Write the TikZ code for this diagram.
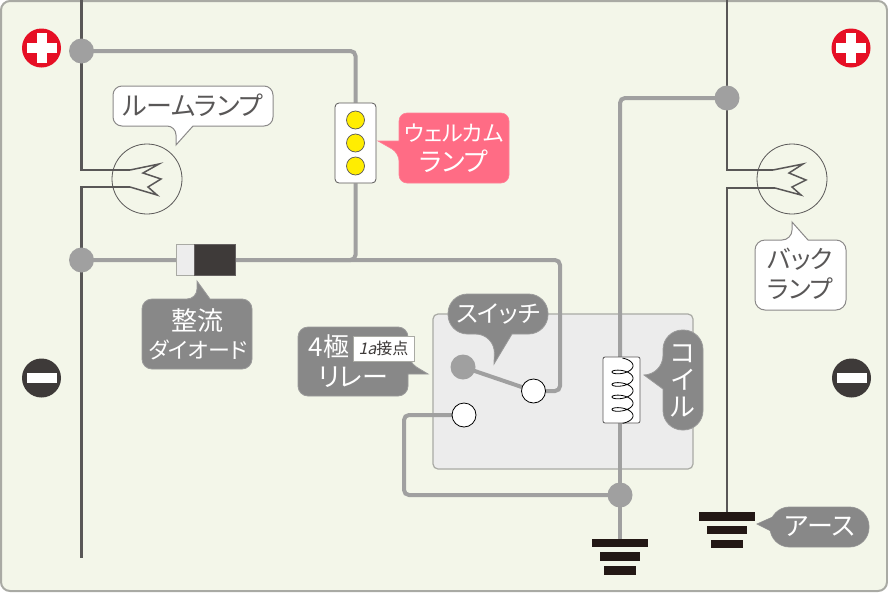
\documentclass[tikz,border=0pt]{standalone}
\usepackage{fontspec}
\setmainfont{Noto Sans CJK JP}[RawFeature=+palt]
\newfontfamily\slantfont{Noto Sans CJK JP}[FakeSlant=0.22]
\definecolor{bgc}{HTML}{F3F6E9}
\definecolor{framec}{HTML}{A9AAA4}
\definecolor{wirec}{HTML}{A0A0A0}
\definecolor{darkw}{HTML}{595757}
\definecolor{tagc}{HTML}{888888}
\definecolor{pinkc}{HTML}{FF6C85}
\definecolor{blackb}{HTML}{231815}
\definecolor{minusc}{HTML}{3E3A39}
\definecolor{plusc}{HTML}{E60F25}
\pgfdeclarelayer{under}
\pgfsetlayers{under,main}
\tikzset{
  x=1pt,y=-1pt,
  wire/.style={draw=wirec,line width=4pt,rounded corners=5pt},
  hotline/.style={draw=darkw,line width=2.5pt},
  lampring/.style={circle,draw=darkw,line width=.8pt,minimum size=70pt,inner sep=0pt},
  joint/.style={circle,fill=wirec,minimum size=25pt,inner sep=0pt},
  contact/.style={circle,fill=white,draw=black,line width=.8pt,minimum size=24pt,inner sep=0pt},
  led/.style={circle,fill=yellow!95!orange,draw=darkw,line width=.7pt,minimum size=18pt,inner sep=0pt},
  holder/.style={draw=darkw,fill=white,line width=.8pt,inner sep=0pt},
  whitetag/.style={fill=white,draw=darkw!70,line width=1pt},
  greytag/.style={fill=tagc,draw=tagc!85!white,line width=.8pt},
  pinktag/.style={fill=pinkc,draw=pinkc!85!white,line width=.6pt},
  darktext/.style={text=darkw,align=center,inner sep=0pt,font=\fontsize{26}{30}\selectfont},
  lighttext/.style={text=white,align=center,inner sep=0pt,font=\fontsize{24}{30}\selectfont},
  gbar/.style={fill=blackb}
}
\begin{document}
\begin{tikzpicture}
\useasboundingbox (0,0) rectangle (888,592);

% nodes
\node[joint] (jtop) at (81.5,51) {};
\node[joint] (jmid) at (81.5,260) {};
\node[joint] (jright) at (727,98) {};
\node[joint] (jgnd) at (620,495) {};
\node[joint] (jsw) at (463,367) {};
\node[contact] (csw) at (533.5,391) {};
\node[contact] (cno) at (464,415) {};
\node[holder,rounded corners=4pt,minimum width=41pt,minimum height=80pt] (lampbox) at (355.5,143) {};
\node[holder,rounded corners=2pt,minimum width=37pt,minimum height=66pt] (coilbox) at (621.5,390) {};
\coordinate (topL) at (81.5,0);
\coordinate (botL) at (81.5,558);
\coordinate (topR) at (727,0);
\coordinate (corner1) at (355.5,51);
\coordinate (gndL) at (620,540);
\coordinate (gndR) at (727,513);

\begin{pgfonlayer}{under}
\draw[fill=bgc,draw=framec,line width=2pt,rounded corners=9pt] (1,1) rectangle (887,591);
\draw[fill=black!7.5,draw=framec,line width=1.2pt,rounded corners=5pt] (433,314) rectangle (693,469);
% gray wires
\draw[wire] (jtop.center) -- (corner1) -- (lampbox.north);
\draw[wire] (lampbox.south) -- (355.5,260) -- (300,260);
\draw[wire] (jmid.center) -- (560,260) -- (560,391) -- (csw.center);
\draw[wire] (jright.center) -- (620,98) -- (620,357);
\draw[wire] (coilbox.center -| jgnd) -- (jgnd.center);
\draw[wire] (jgnd.center) -- (gndL);
\draw[wire] (jgnd.center) -- (404,495) -- (404,415) -- (cno.center);
\draw[wire] (jsw.center) -- (csw.center);
% main dark wires
\draw[hotline] (topL) -- (botL |- jtop);
\draw[hotline] (jtop.center) -- (81.5,170) -- (130,170);
\draw[hotline] (130,187) -- (81.5,187) -- (jmid.center);
\draw[hotline] (jmid.center) -- (botL);
\draw[hotline] (topR) -- (jright.center);
\draw[hotline] (jright.center) -- (727,170) -- (773,170);
\draw[hotline] (775,188) -- (727,188) -- (gndR);
\end{pgfonlayer}

% lamps
\node[lampring] (roomlamp) at (147,179) {};
\node[lampring] (backlamp) at (792,179) {};
\draw[darkw,line width=1.5pt,line join=miter] (130,170) -- (159,164) -- (143,173) -- (161,179) -- (148,187) -- (157,195) -- (130,187);
\draw[darkw,line width=1.5pt,line join=miter] (773,170) -- (803,164) -- (789,173) -- (806,180) -- (792,187) -- (801,195) -- (775,188);

% welcome lamp LEDs
\node[led] (led1) at (355.5,120) {};
\node[led] (led2) at (355.5,143) {};
\node[led] (led3) at (355.5,166) {};

% diode
\draw[fill=black!7,draw=framec,line width=.8pt] (176,244) rectangle (194,275);
\draw[fill=minusc,draw=minusc!80,line width=.8pt] (194,244) rectangle (235,275);

% coil
\draw[black,line width=.8pt] plot[domain=-90:1530,samples=220,variable=\t] ({622.5+10.5*cos(\t)},{365.7+\t/360*12.5+4.5*sin(\t)});

% grounds
\foreach \cx/\cy in {620/538.5,727/512}{
  \fill[gbar] (\cx-28,\cy) rectangle (\cx+28,\cy+8.5);
  \fill[gbar] (\cx-20,\cy+13.5) rectangle (\cx+20,\cy+22);
  \fill[gbar] (\cx-16,\cy+27.5) rectangle (\cx+16,\cy+36);
}

% plus and minus badges
\foreach \cx in {41.5,851}{
  \fill[plusc] (\cx,48) circle (19.5);
  \fill[white] (\cx-15,43) rectangle (\cx+15,53);
  \fill[white] (\cx-5,33) rectangle (\cx+5,63);
}
\foreach \cx in {41.5,851.5}{
  \fill[minusc] (\cx,378) circle (19.5);
  \fill[white] (\cx-15,373) rectangle (\cx+15,383);
}

% callouts
\draw[whitetag] (193,126) [rounded corners=9pt] -- (273,126) -- (273,86) -- (113,86) -- (113,126) -- (176,126) [sharp corners] -- (176,145) -- cycle;
\node[darktext] (troom) at (193,105) {ルームランプ};

\draw[pinktag] (399,141) [rounded corners=8pt] -- (399,113) -- (509,113) -- (509,183) -- (399,183) -- (399,153) [sharp corners] -- (378,141) -- cycle;
\node[lighttext] (twelcome) at (454,148) {\fontsize{22}{30}\selectfont ウェルカム\\\fontsize{26}{30}\selectfont ランプ};

\draw[whitetag] (808,240) [rounded corners=10pt] -- (846,240) -- (846,310) -- (755,310) -- (755,240) -- (792,240) [sharp corners] -- (792,222) -- cycle;
\node[darktext,font=\fontsize{25}{30}\selectfont] (tback) at (800,274) {バック\\ランプ};

\draw[greytag] (210,299) [rounded corners=10pt] -- (252,299) -- (252,369) -- (142,369) -- (142,299) -- (197,299) [sharp corners] -- (197,281) -- cycle;
\node[lighttext] (tdiode1) at (197,321) {\fontsize{26}{30}\selectfont 整流};
\node[lighttext] (tdiode2) at (198,350) {\fontsize{22}{24}\selectfont ダイオード};

\draw[greytag] (408,374) [rounded corners=10pt] -- (408,396) -- (298,396) -- (298,327) -- (408,327) -- (408,362) [sharp corners] -- (428,374) -- cycle;
\node[lighttext,font=\fontsize{26}{30}\selectfont] (trelay1) at (329,347) {4極};
\node[lighttext,font=\fontsize{26}{30}\selectfont] (trelay2) at (353,377) {リレー};
\node[draw=framec,fill=white,line width=.8pt,minimum width=61pt,minimum height=25pt,inner sep=0pt,text=minusc,font=\fontsize{16}{18}\selectfont] (tcontact) at (383.5,348.5) {{\slantfont 1a}接点};

\draw[greytag] (512,334) [rounded corners=19.5pt] -- (548,334) -- (548,294) -- (448,294) -- (448,334) -- (495,334) [sharp corners] -- (494,364) -- cycle;
\node[lighttext] (tswitch) at (498,314) {スイッチ};

\draw[greytag] (663,389) [rounded corners=19.5pt] -- (663,430) -- (703,430) -- (703,330) -- (663,330) -- (663,375) [sharp corners] -- (644,375) -- cycle;
\node[lighttext,font=\fontsize{26}{27}\selectfont] (tcoil) at (683,381) {コ\\イ\\ル};

\draw[greytag,rounded corners=19.5pt] (770,507) rectangle (869,547);
\draw[greytag] (775,516) -- (757,524) -- (775,533) -- cycle;
\fill[tagc,rounded corners=19pt] (770.4,507.4) rectangle (868.6,546.6);
\fill[tagc] (775,516) -- (757.8,524) -- (775,533) -- cycle;
\node[lighttext,font=\fontsize{26}{30}\selectfont] (tearth) at (820,527) {アース};
\end{tikzpicture}
\end{document}
